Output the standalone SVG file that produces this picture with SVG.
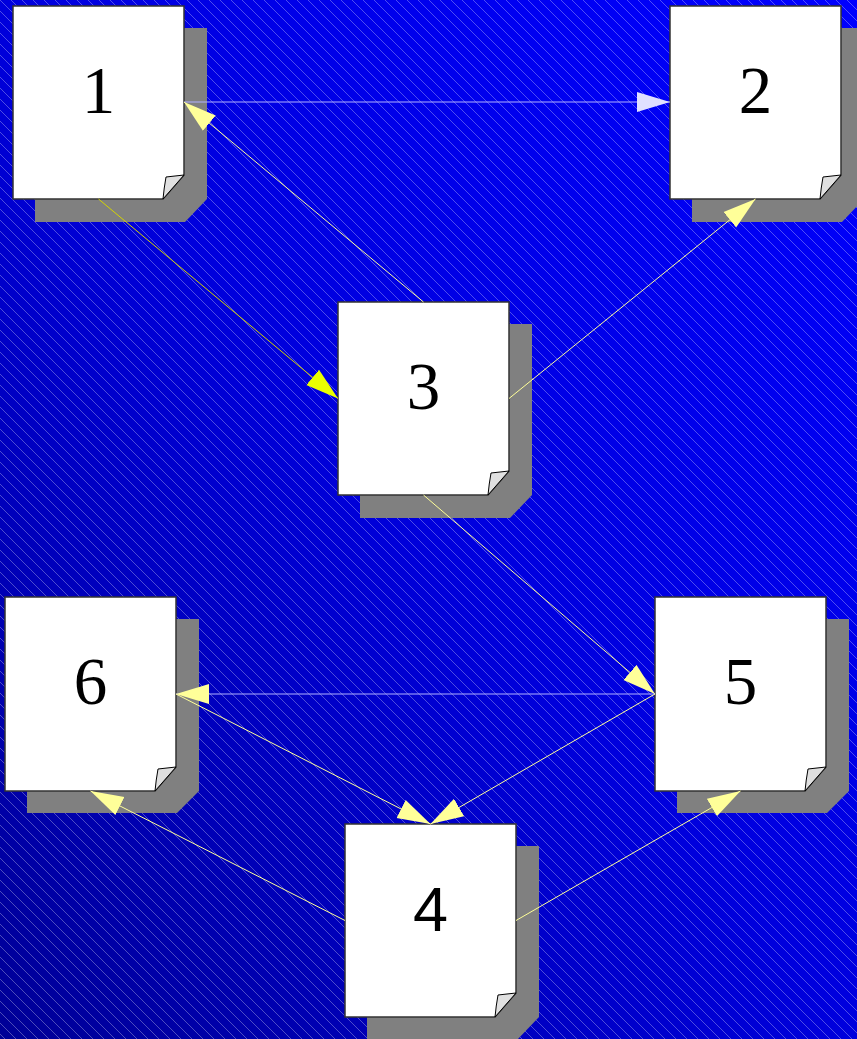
<svg xmlns="http://www.w3.org/2000/svg" width="857" height="1039" viewBox="0 0 857 1039">
<defs>
<linearGradient id="bg" x1="1" y1="0" x2="0" y2="1">
<stop offset="0" stop-color="#0000ff"/>
<stop offset="0.5" stop-color="#0000dd"/>
<stop offset="1" stop-color="#000096"/>
</linearGradient>
<pattern id="hatch" patternUnits="userSpaceOnUse" width="11" height="11">
<path d="M-1,-1 L12,12 M-1,10 L1,12 M10,-1 L12,1" stroke="#ffffff" stroke-opacity="0.3" stroke-width="1"/>
</pattern>
<marker id="aY" markerUnits="userSpaceOnUse" markerWidth="34" markerHeight="22" refX="33" refY="10.5" orient="auto">
<path d="M0,0.5 L33,10.5 L0,20.5 Z" fill="#ffff99"/>
</marker>
<marker id="aL" markerUnits="userSpaceOnUse" markerWidth="34" markerHeight="22" refX="33" refY="10.5" orient="auto">
<path d="M0,0.5 L33,10.5 L0,20.5 Z" fill="#e0e0ff"/>
</marker>
<marker id="aG" markerUnits="userSpaceOnUse" markerWidth="34" markerHeight="22" refX="33" refY="10.5" orient="auto">
<path d="M0,0.5 L33,10.5 L0,20.5 Z" fill="#eaff00"/>
</marker>
</defs>
<style>
.shadow{fill:#808080}
.page{fill:#ffffff;stroke:#333333;stroke-width:1.5}
.curl{fill:#e0e0e0;stroke:#000000;stroke-width:1}
.num{font-family:"Liberation Serif","Times New Roman",serif;font-size:67px;fill:#000000;text-anchor:middle}
.nums{font-family:"Liberation Sans",Arial,sans-serif;font-size:63px;fill:#000000;text-anchor:middle}
.cy{stroke:#ffff99;stroke-width:1;fill:none;marker-end:url(#aY)}
.cl{stroke:#b0b0ff;stroke-width:1.2;fill:none}
.cg{stroke:#d4d400;stroke-width:1;fill:none;marker-end:url(#aG)}
</style>
<rect x="0" y="0" width="857" height="1039" fill="url(#bg)"/>
<rect x="0" y="0" width="857" height="1039" fill="url(#hatch)"/>

<g id="node1">
<path class="shadow" d="M35,28 H207 V199 L185,222 H35 Z"/>
<path class="page" d="M13,6 H184 V175 L163,199 H13 Z"/>
<path class="curl" d="M184,175 L166,177 Q164,188 163,199 Z"/>
<text class="num" x="98.5" y="113">1</text>
</g>
<g id="node2">
<path class="shadow" d="M692,28 H864 V199 L842,222 H692 Z"/>
<path class="page" d="M670,6 H841 V175 L820,199 H670 Z"/>
<path class="curl" d="M841,175 L823,177 Q821,188 820,199 Z"/>
<text class="num" x="755.5" y="113">2</text>
</g>
<g id="node3">
<path class="shadow" d="M360,324 H532 V495 L510,518 H360 Z"/>
<path class="page" d="M338,302 H509 V471 L488,495 H338 Z"/>
<path class="curl" d="M509,471 L491,473 Q489,484 488,495 Z"/>
<text class="num" x="423.5" y="409">3</text>
</g>
<g id="node4">
<path class="shadow" d="M367,846 H539 V1017 L517,1040 H367 Z"/>
<path class="page" d="M345,824 H516 V993 L495,1017 H345 Z"/>
<path class="curl" d="M516,993 L498,995 Q496,1006 495,1017 Z"/>
<text class="nums" x="430.5" y="931">4</text>
</g>
<g id="node5">
<path class="shadow" d="M677,619 H849 V791 L827,813 H677 Z"/>
<path class="page" d="M655,597 H826 V767 L805,791 H655 Z"/>
<path class="curl" d="M826,767 L808,769 Q806,780 805,791 Z"/>
<text class="num" x="740.5" y="704">5</text>
</g>
<g id="node6">
<path class="shadow" d="M27,619 H199 V791 L177,813 H27 Z"/>
<path class="page" d="M5,597 H176 V767 L155,791 H5 Z"/>
<path class="curl" d="M176,767 L158,769 Q156,780 155,791 Z"/>
<text class="num" x="90.5" y="704">6</text>
</g>

<g id="connectors">
<path class="cl" d="M184,102 L670,102" marker-end="url(#aL)"/>
<path class="cy" d="M423.5,302 L184,102"/>
<path class="cg" d="M98.5,199 L338,398.5"/>
<path class="cy" d="M509,398.5 L755.5,199"/>
<path class="cy" d="M423.5,495 L655,694"/>
<path class="cl" d="M655,694 L176,694" marker-end="url(#aY)"/>
<path class="cy" d="M176,694 L430.5,824"/>
<path class="cy" d="M655,694 L430.5,824"/>
<path class="cy" d="M345,920.5 L90.5,791"/>
<path class="cy" d="M516,920.5 L740.5,791"/>
</g>
</svg>
